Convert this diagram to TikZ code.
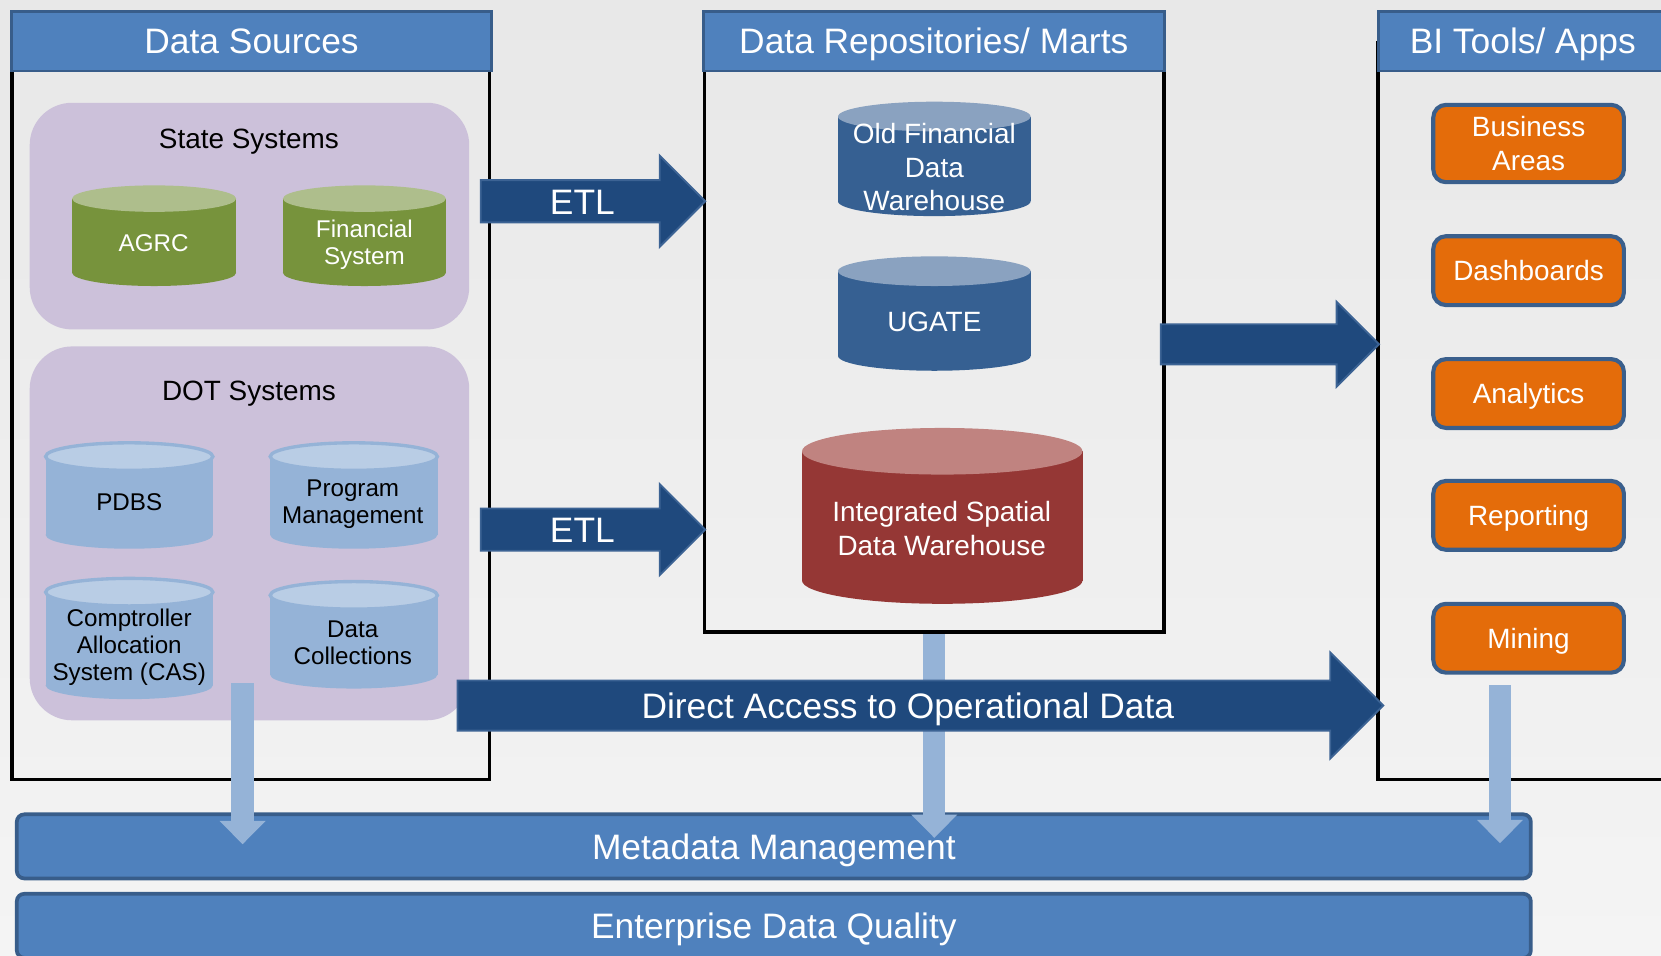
\documentclass[tikz,border=0pt]{standalone}
\usepackage{fontspec}
\setmainfont{Liberation Sans}
\usetikzlibrary{shapes.arrows, arrows.meta}

\definecolor{bgtop}{RGB}{232,232,232}
\definecolor{bgbot}{RGB}{244,244,244}
\definecolor{hdrfill}{RGB}{79,129,189}
\definecolor{hdrline}{RGB}{56,93,138}
\definecolor{navy}{RGB}{31,73,125}
\definecolor{navyline}{RGB}{60,99,148}
\definecolor{grpfill}{RGB}{204,193,218}
\definecolor{grnbody}{RGB}{119,147,60}
\definecolor{grntop}{RGB}{174,190,140}
\definecolor{skybody}{RGB}{149,179,215}
\definecolor{skytop}{RGB}{185,205,229}
\definecolor{steelbody}{RGB}{54,96,146}
\definecolor{steeltop}{RGB}{138,162,192}
\definecolor{rustbody}{RGB}{149,55,53}
\definecolor{rusttop}{RGB}{192,131,128}
\definecolor{toolfill}{RGB}{228,108,10}
\definecolor{toolline}{RGB}{58,95,140}

\tikzset{
  panel/.style = {draw, line width = 2pt},
  header/.style = {fill = hdrfill, draw = hdrline, line width = 1.5pt,
    text = white, font = \fontsize{19}{22}\selectfont,
    text height = 13.6pt, text depth = 0pt,
    minimum height = 1.12cm, inner sep = 0pt},
  group/.style = {fill = grpfill, rounded corners = .8cm, minimum width = 8.3cm},
  grouptitle/.style = {font = \fontsize{15}{18}\selectfont,
    text height = 10.7pt, text depth = 0pt},
  dbtext/.style = {align = center, font = \fontsize{13}{14.7}\selectfont,
    inner sep = 0pt},
  martext/.style = {align = center, text = white,
    font = \fontsize{15}{18}\selectfont, inner sep = 0pt},
  tool/.style = {fill = toolfill, draw = toolline, line width = 2.2pt,
    rounded corners = .24cm, text = white, align = center,
    font = \fontsize{15}{18}\selectfont,
    minimum width = 3.6cm, minimum height = 1.3cm},
  bar/.style = {fill = hdrfill, draw = hdrline, line width = 2pt,
    rounded corners = .14cm, text = white, font = \fontsize{19}{22}\selectfont,
    text height = 13.6pt, text depth = 0pt,
    minimum width = 28.59cm, minimum height = 1.21cm},
  bigarrow/.style = {single arrow, single arrow head indent = 0pt,
    fill = navy, draw = navyline, line width = 1pt, text = white,
    font = \fontsize{19}{22}\selectfont, text height = 14pt, text depth = 0pt,
    inner xsep = 1pt, anchor = tip},
  metaflow/.style = {draw = skybody, line width = .42cm,
    -{Triangle[width = .84cm, length = .44cm]}}
}

% left, top, right, bottom, y radius, body colour, lid style
\newcommand\drum[7]{
  \fill [#6] (#1,#2+#5) rectangle (#3,#4-#5);
  \fill [#6] ({(#1+#3)/2},#4-#5)
    ellipse [x radius = {(#3-#1)*0.01cm}, y radius = {#5*0.02cm}];
  \path [#7] ({(#1+#3)/2},#2+#5)
    ellipse [x radius = {(#3-#1)*0.01cm}, y radius = {#5*0.02cm}];
}

\begin{document}
\begin{tikzpicture}[x = .02cm, y = -.02cm]
  \useasboundingbox (0,0) rectangle (1568,902);
  \clip (0,0) rectangle (1568,902);
  \shade [top color = bgtop, bottom color = bgbot] (0,0) rectangle (1568,902);

  \node [panel, minimum width = 9.02cm, minimum height = 13.92cm]
    (srcbox) at (236.5,388) {};
  \node [panel, minimum width = 8.68cm, minimum height = 11.14cm]
    (repobox) at (882,318.5) {};
  \node [panel, minimum width = 5.78cm, minimum height = 13.92cm]
    (bibox) at (1445.5,388) {};

  \node [header, minimum width = 9.06cm] (srchead) at (237.5,39) {Data Sources};
  \node [header, minimum width = 8.7cm] (repohead) at (881.5,39)
    {Data Repositories/ Marts};
  \node [header, minimum width = 5.46cm] (bihead) at (1437.5,39) {BI Tools/ Apps};

  \node [group, minimum height = 4.28cm] (stategrp) at (235.5,204) {};
  \node [group, minimum height = 7.06cm] (dotgrp) at (235.5,503.5) {};
  \node [grouptitle] (statetitle) at (235,131) {State Systems};
  \node [grouptitle] (dottitle) at (235,369) {DOT Systems};

  \drum{68}{175}{223}{270}{12.5}{grnbody}{fill = grntop}
  \drum{267}{175}{421}{270}{12.5}{grnbody}{fill = grntop}
  \drum{43}{418}{201}{518}{13}{skybody}{fill = skytop, draw = skybody, line width = 1.8pt}
  \drum{255}{418}{413}{518}{13}{skybody}{fill = skytop, draw = skybody, line width = 1.8pt}
  \drum{43}{546}{201}{660}{13}{skybody}{fill = skytop, draw = skybody, line width = 1.8pt}
  \drum{255}{549}{413}{650}{13}{skybody}{fill = skytop, draw = skybody, line width = 1.8pt}
  \drum{791}{96}{973}{204}{14}{steelbody}{fill = steeltop}
  \drum{791}{242}{973}{350}{14}{steelbody}{fill = steeltop}
  \drum{757}{404}{1022}{570}{22}{rustbody}{fill = rusttop}

  \node [dbtext, text = white] (agrc) at (145,230) {AGRC};
  \node [dbtext, text = white] (finsys) at (344,231) {Financial\\System};
  \node [dbtext] (pdbs) at (122,474) {PDBS};
  \node [dbtext] (progmgmt) at (333,476) {Program\\Management};
  \node [dbtext] (cas) at (122,611) {Comptroller\\Allocation\\System (CAS)};
  \node [dbtext] (datacoll) at (333,607) {Data\\Collections};
  \node [martext] (oldfin) at (882,158) {Old Financial\\Data\\Warehouse};
  \node [martext] (ugate) at (882,304) {UGATE};
  \node [martext] (isdw) at (889,499) {Integrated Spatial\\Data Warehouse};

  \node [tool, minimum height = 1.46cm, text depth = -3.4pt]
    (bizareas) at (1443,135.5) {Business\\Areas};
  \foreach \nm/\txt/\yy in {dashb/Dashboards/255.5, analytics/Analytics/371.5,
                            reporting/Reporting/486.5, mining/Mining/602.5}
    \node [tool, text height = 10.7pt, text depth = 0pt] (\nm) at (1443,\yy) {\txt};

  \node [bar] (metabar) at (730.5,799) {Metadata Management};
  \node [bar] (dqbar) at (730.5,874) {Enterprise Data Quality};

  \coordinate (srcdrop) at (229,645);
  \coordinate (srcmeta) at (229,797);
  \coordinate (repometa) at (882,791);
  \coordinate (tooldrop) at (1416,647);
  \coordinate (toolmeta) at (1416,796);
  \draw [metaflow] (srcdrop) -- (srcmeta);
  \draw [metaflow] (repobox.south) -- (repometa);
  \draw [metaflow] (tooldrop) -- (toolmeta);

  \node [bigarrow, minimum height = 4.24cm, minimum width = 1.72cm,
         inner ysep = 3.85pt, single arrow head extend = .46cm]
    (etlA) at (667,190) {ETL};
  \node [bigarrow, minimum height = 4.24cm, minimum width = 1.72cm,
         inner ysep = 3.85pt, single arrow head extend = .46cm]
    (etlB) at (667,500) {ETL};
  \node [bigarrow, minimum height = 4.12cm, minimum width = 1.6cm,
         inner ysep = 3.25pt, single arrow head extend = .42cm]
    (tobi) at (1303,325) {};
  \node [bigarrow, minimum height = 17.48cm, minimum width = 2cm,
         inner ysep = 5.8pt, single arrow head extend = .52cm]
    (direct) at (1307,666) {Direct Access to Operational Data};
\end{tikzpicture}
\end{document}
